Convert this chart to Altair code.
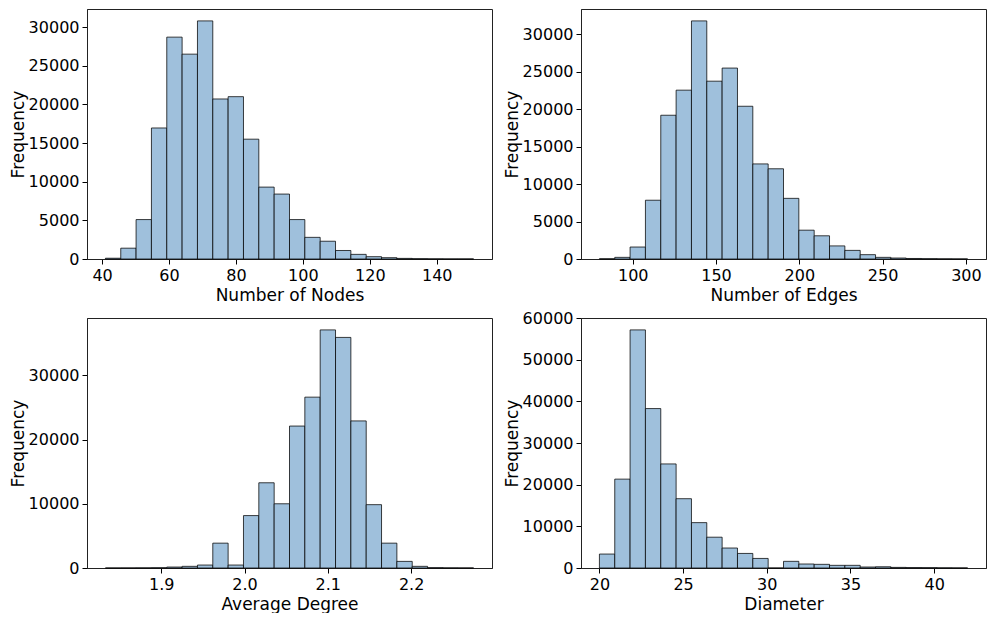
import altair as alt
import pandas as pd
import numpy as np

# ---- data (24 bins per histogram) ----
nodes_counts = [100, 1400, 5100, 16950, 28700, 26500, 30800, 20700, 21000, 15500,
                9300, 8400, 5100, 2800, 2300, 1100, 600, 300, 170, 80, 40, 20, 10, 10]
nodes_range = [41, 151]
nodes_ticks = [40, 60, 80, 100, 120, 140]

edges_counts = [30, 220, 1600, 7850, 19200, 22550, 31800, 23750, 25500, 20400,
                12700, 12050, 8100, 3850, 3100, 1750, 1150, 580, 220, 130, 70, 40, 20, 10]
edges_range = [80, 301]
edges_ticks = [100, 150, 200, 250, 300]

degree_counts = [5, 10, 20, 40, 150, 260, 460, 3870, 460, 8160,
                 13270, 10000, 22100, 26600, 37070, 35900, 22900, 9860, 3870, 1030,
                 260, 50, 20, 10]
degree_range = [1.833, 2.275]
degree_ticks = [1.9, 2.0, 2.1, 2.2]

diam_counts = [3350, 21350, 57200, 38300, 25000, 16650, 10900, 7400, 4800, 3500,
               2300, 0, 1600, 960, 880, 640, 640, 240, 300, 150, 100, 80, 40, 20]
diam_range = [20, 42]
diam_ticks = [20, 25, 30, 35, 40]

titles = ["Number of Nodes", "Number of Edges", "Average Degree", "Diameter"]

FONT = "DejaVu Sans"
W, H = 405, 250


def panel(counts, rng, xticks, yticks, xtitle, xfmt):
    lo, hi = rng
    edges = np.linspace(lo, hi, len(counts) + 1)
    df = pd.DataFrame({"start": edges[:-1], "end": edges[1:], "count": counts})
    pad = 0.05 * (hi - lo)
    ymax = max(counts) * 1.05
    return alt.Chart(df).mark_rect(
        fill="#9fc0dc", stroke="#000000", strokeOpacity=0.75, strokeWidth=1
    ).encode(
        x=alt.X("start:Q", title=xtitle,
                scale=alt.Scale(domain=[lo - pad, hi + pad], nice=False, zero=False),
                axis=alt.Axis(values=xticks, format=xfmt)),
        x2="end:Q",
        y=alt.Y("count:Q", title="Frequency",
                scale=alt.Scale(domain=[0, ymax], nice=False),
                axis=alt.Axis(values=yticks, format="d")),
        y2=alt.datum(0),
    ).properties(width=W, height=H)


p1 = panel(nodes_counts, nodes_range, nodes_ticks, list(range(0, 30001, 5000)), titles[0], "d")
p2 = panel(edges_counts, edges_range, edges_ticks, list(range(0, 30001, 5000)), titles[1], "d")
p3 = panel(degree_counts, degree_range, degree_ticks, list(range(0, 30001, 10000)), titles[2], ".1f")
p4 = panel(diam_counts, diam_range, diam_ticks, list(range(0, 60001, 10000)), titles[3], "d")

chart = alt.vconcat(
    alt.hconcat(p1, p2, spacing=9),
    alt.hconcat(p3, p4, spacing=9),
    spacing=5,
).properties(
    padding={"left": 0, "top": 0, "right": 0, "bottom": 0}
).configure_view(
    stroke="#222222", strokeWidth=1
).configure_axis(
    grid=False,
    labelFont=FONT, labelFontSize=16, labelColor="#000000",
    titleFont=FONT, titleFontSize=17, titleColor="#000000", titleFontWeight="normal",
    tickColor="#000000", tickSize=5, tickWidth=1,
    domainColor="#222222", domainWidth=1,
    labelPadding=3,
).configure_axisX(
    labelFlush=False, titlePadding=4
).configure_axisY(
    labelFlush=False, titlePadding=1
)

chart.save("out.html", embed_options={"renderer": "svg", "actions": False})
